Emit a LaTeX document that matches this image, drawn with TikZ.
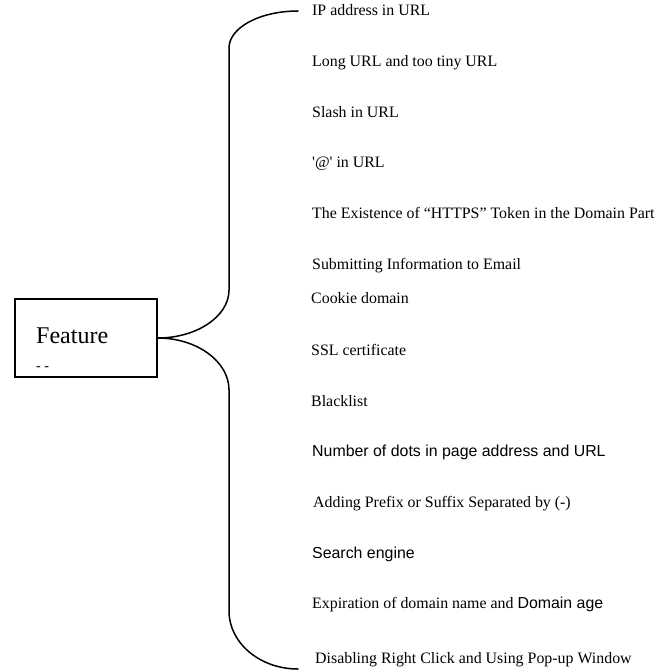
\documentclass[tikz,border=0pt]{standalone}
\usepackage{fontspec}
\setmainfont{Liberation Serif}
\setsansfont{Liberation Sans}
\begin{document}
\begin{tikzpicture}[x=1bp,y=-1bp,
  item/.style={anchor=base west,inner sep=0pt,font=\fontsize{15.9bp}{18bp}\selectfont},
  sitem/.style={item,font=\fontsize{15.9bp}{18bp}\selectfont\sffamily},
  brace/.style={line width=1.5bp,line cap=round},
  featbox/.style={draw,line width=1.3bp,minimum width=142bp,minimum height=78bp,inner sep=0pt}]
\useasboundingbox (0,0) rectangle (668,672);
\node[featbox] (feat) at (86,338) {};
\node[anchor=base west,inner sep=0pt,font=\fontsize{24bp}{28bp}\selectfont] (ftxt) at (36,343) {Feature};
\node[anchor=base west,inner sep=0pt,font=\fontsize{14bp}{16bp}\selectfont] (fdash) at (36,370) {- -};
\coordinate (topend) at (298,11);
\coordinate (botend) at (298,669);
\draw[brace] (feat.east) .. controls (196.7,338) and (229,316.5) .. (229,290)
  -- (229,48) .. controls (229,27.6) and (259.9,11) .. (topend);
\draw[brace] (feat.east) .. controls (196.7,338) and (229,361.3) .. (229,390)
  -- (229,611) .. controls (229,643) and (259.9,669) .. (botend);
\node[item] (i1) at (312,16) {IP address in URL};
\node[item] (i2) at (312,67) {Long URL and too tiny URL};
\node[item] (i3) at (312,118) {Slash in URL};
\node[item] (i4) at (312,167) {\textquotesingle @\textquotesingle{} in URL};
\node[item] (i5) at (312,218) {The Existence of “HTTPS” Token in the Domain Part};
\node[item] (i6) at (312,269) {Submitting Information to Email};
\node[item] (i7) at (311,303) {Cookie domain};
\node[item] (i8) at (311,355) {SSL certificate};
\node[item] (i9) at (311,406) {Blacklist};
\node[sitem] (i10) at (312,456) {Number of dots in page address and URL};
\node[item] (i11) at (313,507) {Adding Prefix or Suffix Separated by (-)};
\node[sitem] (i12) at (312,558) {Search engine};
\node[item] (i13) at (312,608) {Expiration of domain name and {\sffamily Domain age}};
\node[item] (i14) at (315,663) {Disabling Right Click and Using Pop-up Window};
\end{tikzpicture}
\end{document}
